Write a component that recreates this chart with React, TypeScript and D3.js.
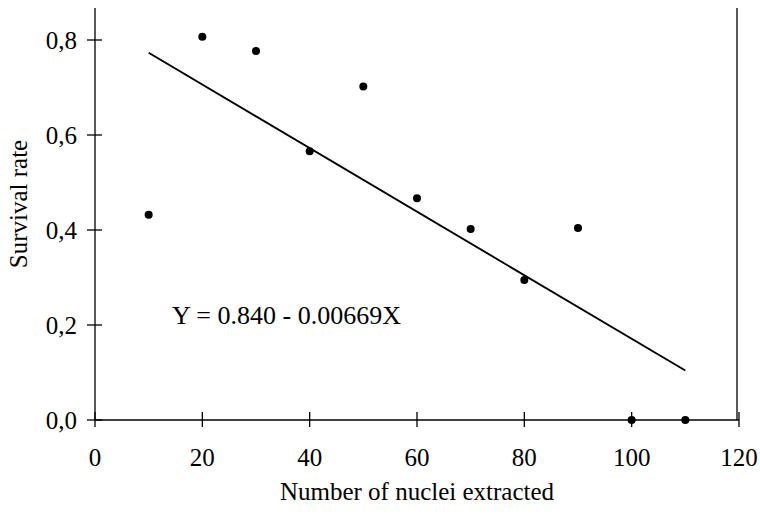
import React from "react";
import * as d3 from "d3";

const nucleiX = [10, 20, 30, 40, 50, 60, 70, 80, 90, 100, 110];
const survival = [0.432, 0.807, 0.777, 0.566, 0.702, 0.467, 0.402, 0.295, 0.404, 0.0, 0.0];
const xTicks = [0, 20, 40, 60, 80, 100, 120];
const yTicks = [0, 0.2, 0.4, 0.6, 0.8];
const intercept = 0.84;
const slope = -0.00669;
const fitRange = [10, 110];
const equationLabel = "Y = 0.840 - 0.00669X";

export default function App() {
  const W = 760, H = 518;
  const left = 95, right = 739, top = 8, bottom = 420;
  const x = d3.scaleLinear().domain([0, 120]).range([left, right]);
  const y = d3.scaleLinear().domain([0, 0.8]).range([bottom, 40]);
  const yTopVal = y.invert(top);
  const font = "'Liberation Serif', 'Times New Roman', serif";
  const line = d3.line<number>().x((d) => x(d)).y((d) => y(intercept + slope * d));
  const fmt = (v: number) => v.toFixed(1).replace(".", ",");
  return (
    <svg width={W} height={H} style={{ position: "absolute", left: 0, top: 0, background: "#fff" }}>
      <g stroke="#000" strokeWidth={1.3} fill="none">
        <line x1={x(0)} x2={x(0)} y1={y(yTopVal)} y2={y(0)} />
        <line x1={x(0)} x2={x(120)} y1={y(0)} y2={y(0)} />
        <line x1={x(120) - 2} x2={x(120) - 2} y1={y(yTopVal)} y2={y(0)} />
        {yTicks.map((t) => (
          <line key={"yt" + t} x1={x(0) - 8} x2={x(0) + 7} y1={y(t)} y2={y(t)} />
        ))}
        {xTicks.map((t) => (
          <line key={"xt" + t} x1={x(t)} x2={x(t)} y1={y(0) - 8} y2={y(0) + 7} />
        ))}
        <path d={line(fitRange) || ""} strokeWidth={1.9} />
      </g>
      {nucleiX.map((v, i) => (
        <circle key={"p" + i} cx={x(v)} cy={y(survival[i])} r={4} fill="#000" />
      ))}
      <g fontFamily={font} fontSize={25} fill="#000">
        {yTicks.map((t) => (
          <text key={"yl" + t} x={x(0) - 18} y={y(t)} dy="0.35em" textAnchor="end">
            {fmt(t)}
          </text>
        ))}
        {xTicks.map((t) => (
          <text key={"xl" + t} x={x(t)} y={y(0) + 46} textAnchor="middle">
            {t}
          </text>
        ))}
        <text x={417} y={500} textAnchor="middle">
          Number of nuclei extracted
        </text>
        <text transform="translate(27, 204) rotate(-90)" textAnchor="middle">
          Survival rate
        </text>
        <text x={172} y={324} fontSize={26}>
          {equationLabel}
        </text>
      </g>
    </svg>
  );
}
